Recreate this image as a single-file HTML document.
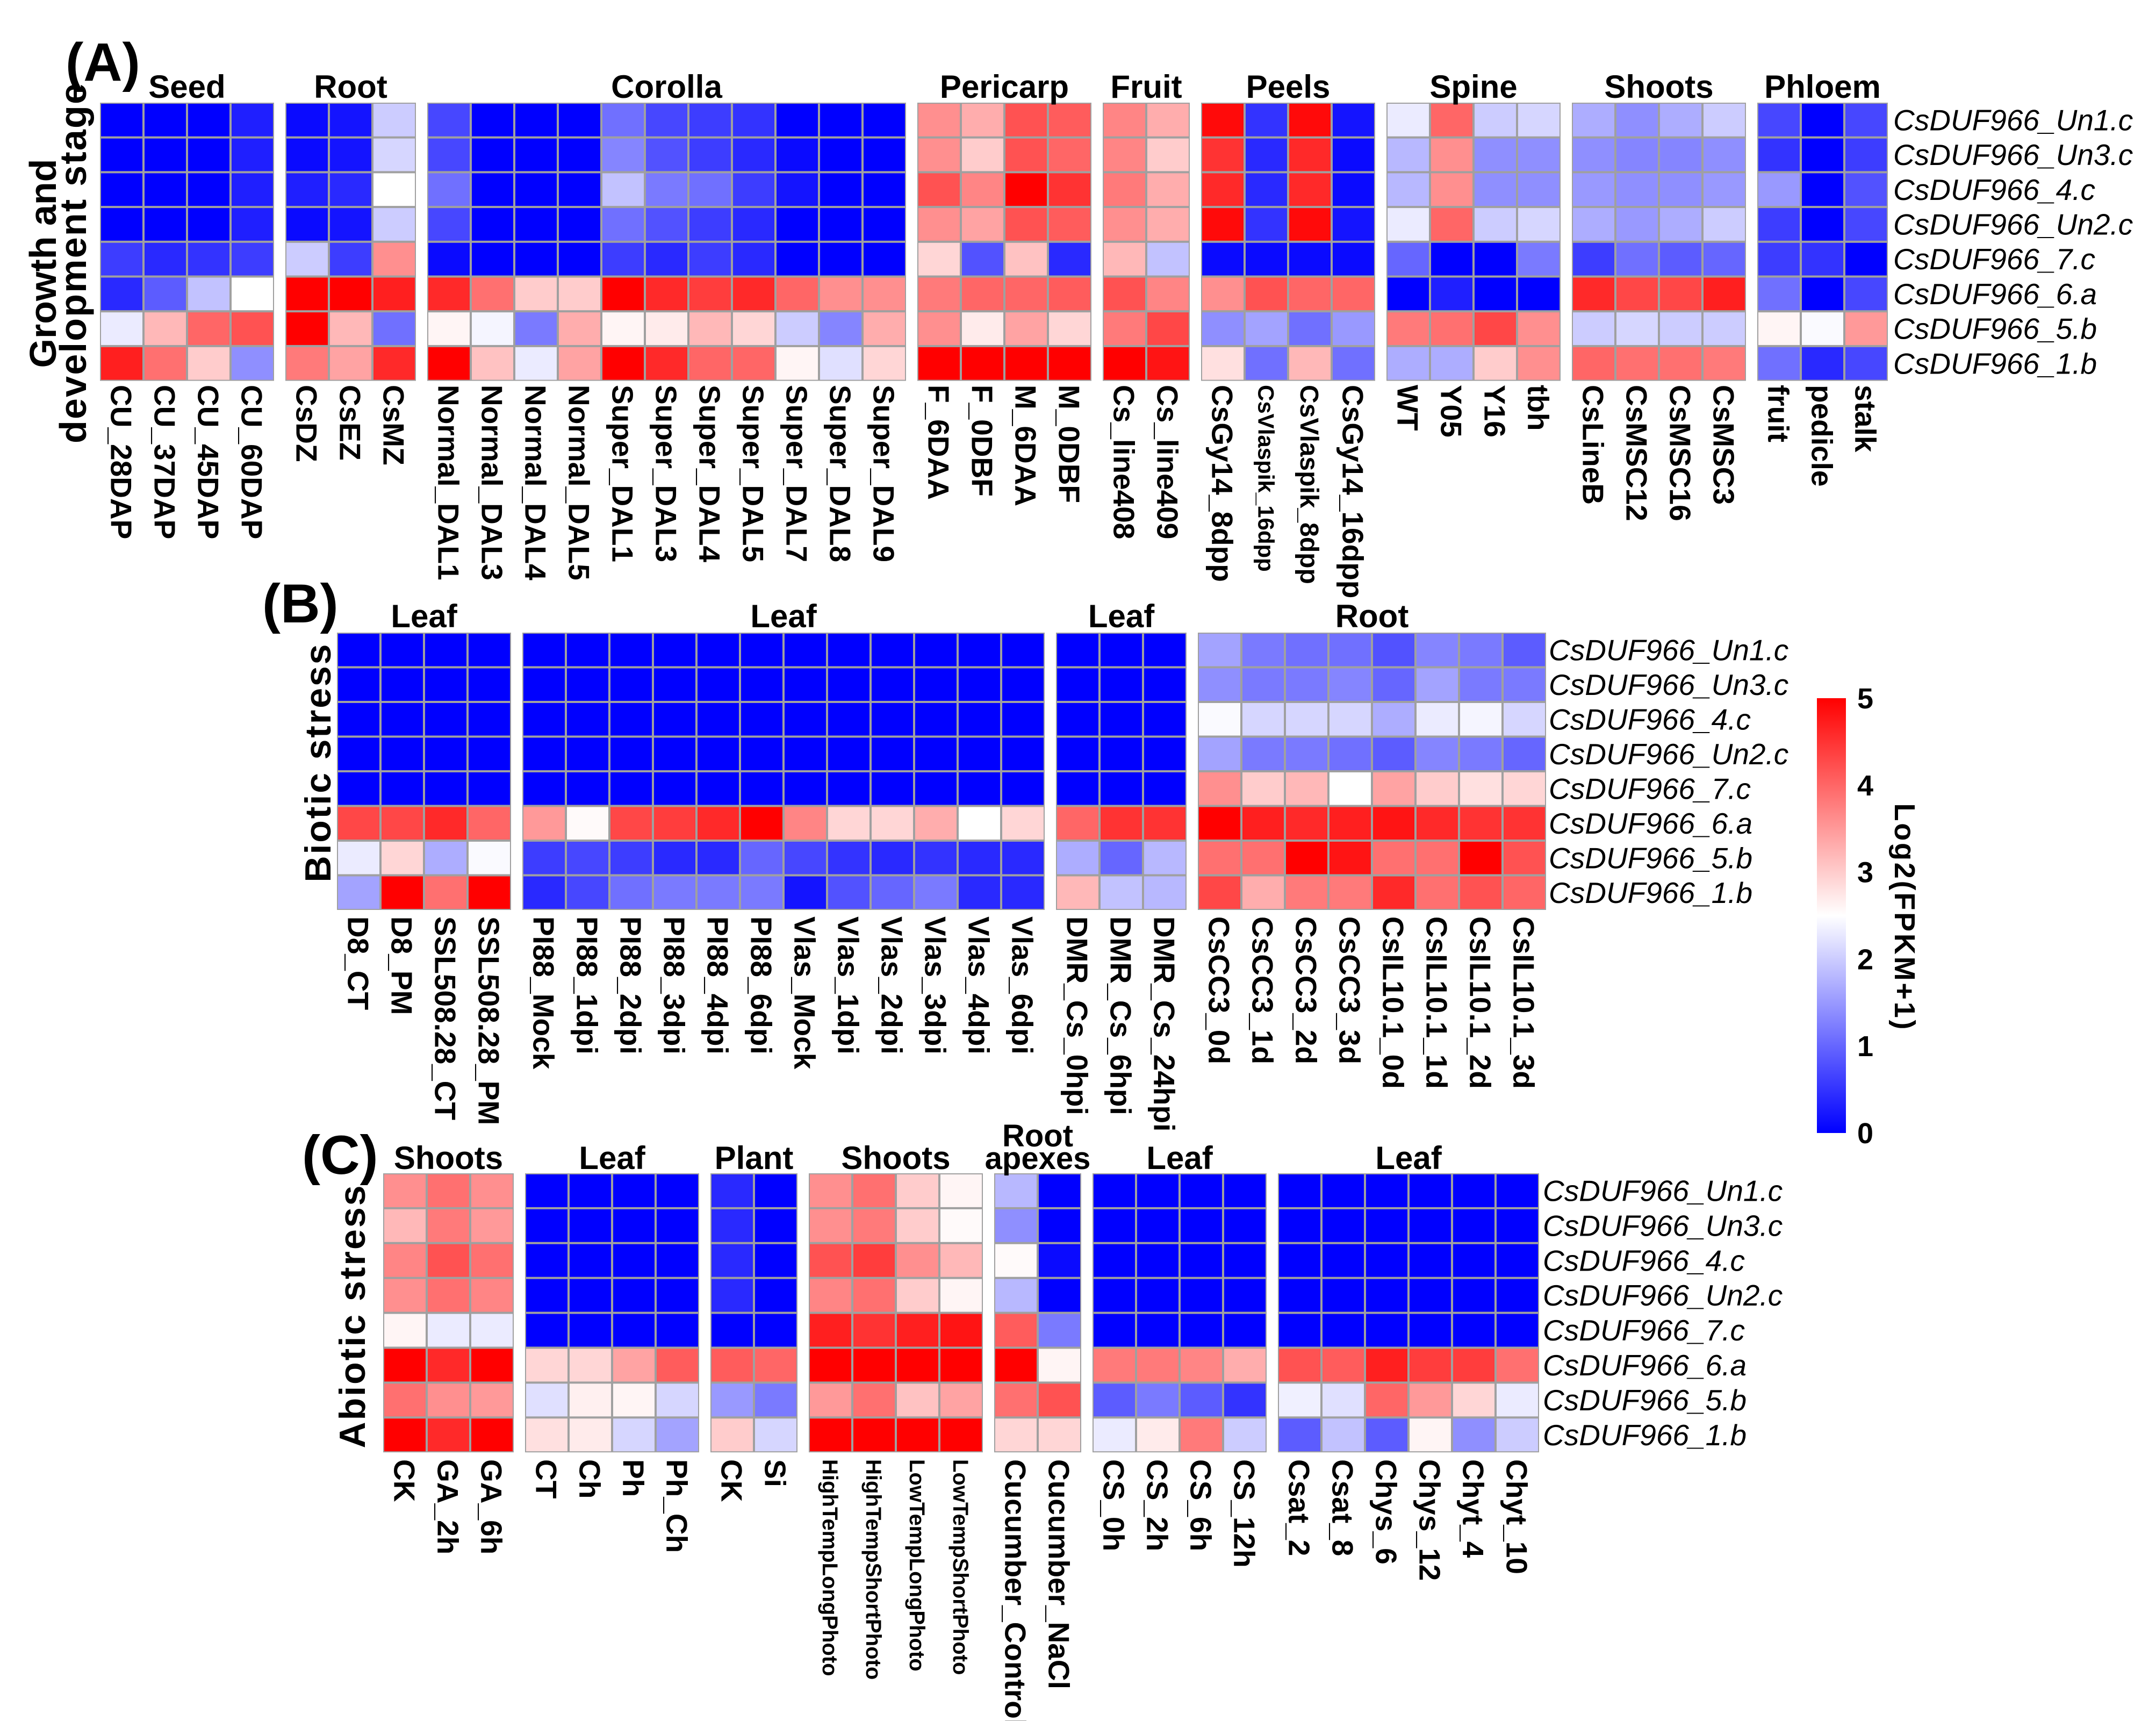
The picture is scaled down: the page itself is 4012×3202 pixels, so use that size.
<!DOCTYPE html>
<html><head><meta charset="utf-8"><style>
html,body{margin:0;padding:0;background:#fff;}
svg{display:block;font-family:"Liberation Sans",Arial,sans-serif;}
</style></head><body>
<svg id="chart" xmlns="http://www.w3.org/2000/svg" width="4012" height="3202" viewBox="0 0 4012 3202">
<defs>
<linearGradient id="cbg" x1="0" y1="1" x2="0" y2="0">
<stop offset="0" stop-color="#0000ff"/><stop offset="0.5" stop-color="#ffffff"/><stop offset="1" stop-color="#ff0000"/>
</linearGradient>
</defs>
<g id="root"></g>
</svg>
<script>
const genes = ["CsDUF966_Un1.c","CsDUF966_Un3.c","CsDUF966_4.c","CsDUF966_Un2.c","CsDUF966_7.c","CsDUF966_6.a","CsDUF966_5.b","CsDUF966_1.b"];
const colorTicks = [0,1,2,3,4,5];

const groupsA = ["Seed","Root","Corolla","Pericarp","Fruit","Peels","Spine","Shoots","Phloem"];
const colsA = [
 ["CU_28DAP","CU_37DAP","CU_45DAP","CU_60DAP"],
 ["CsDZ","CsEZ","CsMZ"],
 ["Normal_DAL1","Normal_DAL3","Normal_DAL4","Normal_DAL5","Super_DAL1","Super_DAL3","Super_DAL4","Super_DAL5","Super_DAL7","Super_DAL8","Super_DAL9"],
 ["F_6DAA","F_0DBF","M_6DAA","M_0DBF"],
 ["Cs_line408","Cs_line409"],
 ["CsGy14_8dpp","CsVlaspik_16dpp","CsVlaspik_8dpp","CsGy14_16dpp"],
 ["WT","Y05","Y16","tbh"],
 ["CsLineB","CsMSC12","CsMSC16","CsMSC3"],
 ["fruit","pedicle","stalk"]
];
const valsA = [
 [[0,0,0,0,0.6,0.4,2.3,4.7],[0,0,0,0,0.4,0.9,3.2,3.9],[0,0,0,0,0.5,1.9,4.0,3.0],[0.3,0.3,0.3,0.3,0.6,2.5,4.2,1.4]],
 [[0.1,0.1,0.3,0.1,2.0,5,5,3.8],[0.2,0.2,0.4,0.2,0.6,5,3.2,3.4],[2.0,2.1,2.5,2.0,3.6,4.7,1.1,4.6]],
 [[0.7,0.7,1.1,0.7,0.1,4.6,2.6,5],[0,0,0,0,0,3.9,2.4,3.1],[0,0,0,0,0,3.0,1.2,2.3],[0,0,0,0,0,3.0,3.3,3.4],
  [1.1,1.3,1.9,1.1,0.6,5,2.6,5],[0.7,0.8,1.2,0.8,0.4,4.6,2.7,4.6],[0.6,0.6,1.1,0.6,0.6,4.4,3.2,4.0],[0.5,0.4,0.6,0.4,0.4,4.6,2.9,4.0],
  [0,0.1,0.2,0,0,4.0,2.0,2.6],[0,0,0,0,0,3.6,1.3,2.2],[0,0,0,0,0,3.6,3.3,2.9]],
 [[3.6,3.6,4.2,3.6,2.9,3.8,3.6,5],[3.3,3.0,3.7,3.4,0.8,4.0,2.7,5],[4.2,4.2,5,4.2,3.1,4.0,3.4,5],[4.1,4.0,4.5,4.1,0.4,4.1,2.9,5]],
 [[3.7,3.7,3.8,3.6,3.2,4.2,3.8,5],[3.3,3.0,3.3,3.3,1.9,3.7,4.3,4.8]],
 [[4.9,4.5,4.6,4.9,0.1,3.6,1.4,2.8],[0.5,0.4,0.4,0.5,0.1,4.2,1.6,1.1],[4.9,4.6,4.6,4.9,0.1,4.0,1.1,3.2],[0.2,0.1,0.1,0.2,0.1,4.0,1.5,1.1]],
 [[2.3,1.8,1.8,2.3,1.0,0,3.8,1.7],[4.0,3.6,3.6,4.0,0,0.3,3.9,1.7],[2.0,1.4,1.4,2.0,0,0,4.3,3.0],[2.1,1.4,1.4,2.1,1.2,0,3.6,3.6]],
 [[1.7,1.4,1.5,1.7,0.6,4.6,2.0,4.0],[1.4,1.3,1.4,1.5,1.1,4.3,2.1,3.9],[1.7,1.3,1.4,1.7,0.9,4.3,2.0,3.9],[2.0,1.4,1.5,2.0,1.0,4.7,2.0,3.8]],
 [[0.7,0.5,1.5,0.6,0.6,1.1,2.6,1.1],[0,0,0,0,0.5,0,2.45,0.4],[0.7,0.6,0.8,0.7,0,0.7,3.5,0.7]]
];

const groupsB = ["Leaf","Leaf","Leaf","Root"];
const colsB = [
 ["D8_CT","D8_PM","SSL508.28_CT","SSL508.28_PM"],
 ["PI88_Mock","PI88_1dpi","PI88_2dpi","PI88_3dpi","PI88_4dpi","PI88_6dpi","Vlas_Mock","Vlas_1dpi","Vlas_2dpi","Vlas_3dpi","Vlas_4dpi","Vlas_6dpi"],
 ["DMR_Cs_0hpi","DMR_Cs_6hpi","DMR_Cs_24hpi"],
 ["CsCC3_0d","CsCC3_1d","CsCC3_2d","CsCC3_3d","CsIL10.1_0d","CsIL10.1_1d","CsIL10.1_2d","CsIL10.1_3d"]
];
const valsB = [
 [[0,0,0,0,0,4.3,2.3,1.6],[0,0,0,0,0,4.3,2.9,5],[0,0,0,0,0,4.6,1.7,3.9],[0,0,0,0,0,4.0,2.45,5]],
 [[0,0,0,0,0,3.5,0.6,0.4],[0,0,0,0,0,2.55,0.7,0.7],[0,0,0,0,0,4.3,0.6,1.1],[0,0,0,0,0,4.4,0.4,1.2],[0,0,0,0,0,4.6,0.4,1.2],[0,0,0,0,0,5,1.0,1.2],
  [0,0,0,0,0,3.7,0.7,0.2],[0,0,0,0,0,2.9,0.5,0.8],[0,0,0,0,0,2.9,0.4,1.0],[0,0,0,0,0,3.3,0.5,1.2],[0,0,0,0,0,2.5,0.4,0.4],[0,0,0,0,0,2.9,0.4,0.4]],
 [[0,0,0,0,0,4.0,1.7,3.2],[0,0,0,0,0,4.5,1.0,1.9],[0,0,0,0,0,4.5,1.8,1.8]],
 [[1.6,1.4,2.45,1.6,3.6,5.0,3.9,4.3],[1.2,1.2,2.1,1.2,3.0,4.7,3.9,3.3],[1.1,1.2,2.1,1.2,3.2,4.6,5.0,3.8],[1.1,1.3,2.1,1.1,2.5,4.7,4.8,3.8],
  [0.8,1.0,1.7,0.9,3.4,4.8,3.9,4.6],[1.3,1.6,2.3,1.3,3.0,4.6,3.9,3.9],[1.2,1.2,2.4,1.2,2.8,4.5,5.0,4.2],[0.9,1.2,2.1,1.0,2.9,4.5,4.2,4.0]]
];

const groupsC = ["Shoots","Leaf","Plant","Shoots","Root apexes","Leaf","Leaf"];
const colsC = [
 ["CK","GA_2h","GA_6h"],
 ["CT","Ch","Ph","Ph_Ch"],
 ["CK","Si"],
 ["HighTempLongPhoto","HighTempShortPhoto","LowTempLongPhoto","LowTempShortPhoto"],
 ["Cucumber_Control","Cucumber_NaCl"],
 ["CS_0h","CS_2h","CS_6h","CS_12h"],
 ["Csat_2","Csat_8","Chys_6","Chys_12","Chyt_4","Chyt_10"]
];
const valsC = [
 [[3.6,3.2,3.7,3.6,2.6,5,3.9,5],[3.9,3.8,4.2,3.9,2.3,4.6,3.6,4.6],[3.6,3.5,3.9,3.7,2.3,5,3.5,5]],
 [[0,0,0,0,0,2.9,2.2,2.8],[0,0,0,0,0,2.9,2.65,2.7],[0,0,0,0,0,3.4,2.6,2.1],[0,0,0,0,0,4.1,2.1,1.6]],
 [[0.4,0.4,0.4,0.4,0,4.1,1.5,3.0],[0,0,0,0,0,4.0,1.2,2.1]],
 [[3.6,3.6,4.2,3.7,4.7,5,3.5,5],[3.9,3.8,4.4,3.9,4.5,5,3.9,5],[3.0,3.0,3.6,3.0,4.7,5,3.1,5],[2.6,2.55,3.2,2.6,4.8,5,3.4,5]],
 [[1.8,1.4,2.55,1.8,4.1,5,3.9,2.9],[0,0,0.1,0,1.2,2.6,4.2,2.9]],
 [[0,0,0,0,0,3.8,0.9,2.3],[0,0,0,0,0,3.8,1.2,2.7],[0,0,0,0,0,3.7,0.9,3.8],[0,0,0,0,0,3.3,0.5,2.0]],
 [[0,0,0,0,0,4.2,2.35,0.9],[0,0,0,0,0,4.1,2.2,1.9],[0,0,0,0,0,4.7,4.0,0.9],[0,0,0,0,0,4.4,3.5,2.6],[0,0,0,0,0,4.4,2.9,1.4],[0,0,0,0,0,3.9,2.3,2.0]]
];

const NS="http://www.w3.org/2000/svg";
const root=document.getElementById('root');
function mk(tag,attrs,parent){const e=document.createElementNS(NS,tag);for(const k in attrs)e.setAttribute(k,attrs[k]);(parent||root).appendChild(e);return e;}
function color(v){
  const t=Math.max(0,Math.min(5,v));
  let r,g,b;
  if(t<2.5){const f=t/2.5;r=255*f;g=255*f;b=255;}
  else{const f=(t-2.5)/2.5;r=255;g=255*(1-f);b=255*(1-f);}
  return `rgb(${Math.round(r)},${Math.round(g)},${Math.round(b)})`;
}
const CW=81, GAP=21;
const smallLabels={"CsVlaspik_16dpp":42,"CsVlaspik_8dpp":48,"HighTempLongPhoto":40,"HighTempShortPhoto":40,"LowTempLongPhoto":40,"LowTempShortPhoto":40};

function panel(id,x0,y0,rh,groups,cols,vals,titleY,labelY,rowX){
  const g=mk('g',{});
  
  
  let x=x0;
  groups.forEach((gn,gi)=>{
    const n=cols[gi].length;
    const bg=mk('g',{},g);
    
    
    mk('rect',{x:x,y:y0,width:n*CW,height:8*rh,fill:'#a0a0a0'},bg);
    cols[gi].forEach((cn,ci)=>{
      vals[gi][ci].forEach((v,ri)=>{
        const c=mk('rect',{x:x+ci*CW+2,y:y0+ri*rh+2,width:CW-4,height:rh-4,fill:color(v)},bg);
        
        
      });
      const fs=smallLabels[cn]||55;
      const cx=x+ci*CW+CW/2;
      const t=mk('text',{x:cx-fs*0.36,y:labelY,'font-size':fs,'font-weight':'bold',transform:`rotate(90 ${cx-fs*0.36} ${labelY})`},bg);
      
      
      t.textContent=cn;
    });
    const cx=x+n*CW/2;
    if(gn==="Root apexes"){
      const t1=mk('text',{x:cx,y:titleY-42,'font-size':58,'font-weight':'bold','text-anchor':'middle'},bg);
      
      
      t1.textContent="Root";
      const t2=mk('text',{x:cx,y:titleY,'font-size':58,'font-weight':'bold','text-anchor':'middle'},bg);
      
      
      t2.textContent="apexes";
    } else {
      const t=mk('text',{x:cx,y:titleY,'font-size':60,'font-weight':'bold','text-anchor':'middle'},bg);
      
      
      t.textContent=gn;
    }
    x+=n*CW+GAP;
  });
  genes.forEach((gname,ri)=>{
    const t=mk('text',{x:rowX,y:y0+ri*rh+rh/2+19,'font-size':55,'font-style':'italic'},g);
    
    
    t.textContent=gname;
  });
}
panel('panel-a',186,191,64.7,groupsA,colsA,valsA,182,716,3523);
panel('panel-b',627,1177,64.5,groupsB,colsB,valsB,1167,1705,2882);
panel('panel-c',713,2183,64.9,groupsC,colsC,valsC,2175,2715,2871);

function txt(name,s,attrs){const t=mk('text',attrs);t.textContent=s;return t;}
txt('panel-a-label','(A)',{x:122,y:150,'font-size':100,'font-weight':'bold'});
txt('panel-b-label','(B)',{x:488,y:1158,'font-size':102,'font-weight':'bold'});
txt('panel-c-label','(C)',{x:562,y:2184,'font-size':102,'font-weight':'bold'});
txt('panel-a-title-line1','Growth and',{x:0,y:0,'font-size':70,'font-weight':'bold','text-anchor':'middle',transform:'translate(104,490) rotate(-90)'});
txt('panel-a-title-line2','development stage',{x:0,y:0,'font-size':70,'font-weight':'bold','text-anchor':'middle',textLength:670,transform:'translate(160,490) rotate(-90)'});
txt('panel-b-title','Biotic stress',{x:0,y:0,'font-size':68,'font-weight':'bold','text-anchor':'middle',textLength:443,transform:'translate(615,1420) rotate(-90)'});
txt('panel-c-title','Abiotic stress',{x:0,y:0,'font-size':68,'font-weight':'bold','text-anchor':'middle',textLength:489,transform:'translate(679,2450) rotate(-90)'});

const cbTop=1299, cbBot=2108;
const cb=mk('rect',{x:3381,y:cbTop,width:54,height:cbBot-cbTop,fill:'url(#cbg)'});


colorTicks.forEach(v=>{
  const y=cbBot-(v/5)*(cbBot-cbTop);
  const t=mk('text',{x:3456,y:y+19,'font-size':54,'font-weight':'bold'});
  
  
  t.textContent=String(v);
});
txt('colorbar-title','Log2(FPKM+1)',{x:0,y:0,'font-size':54,'font-weight':'bold','text-anchor':'middle',textLength:421,transform:'translate(3526,1705) rotate(90)'});
</script>
</body></html>
